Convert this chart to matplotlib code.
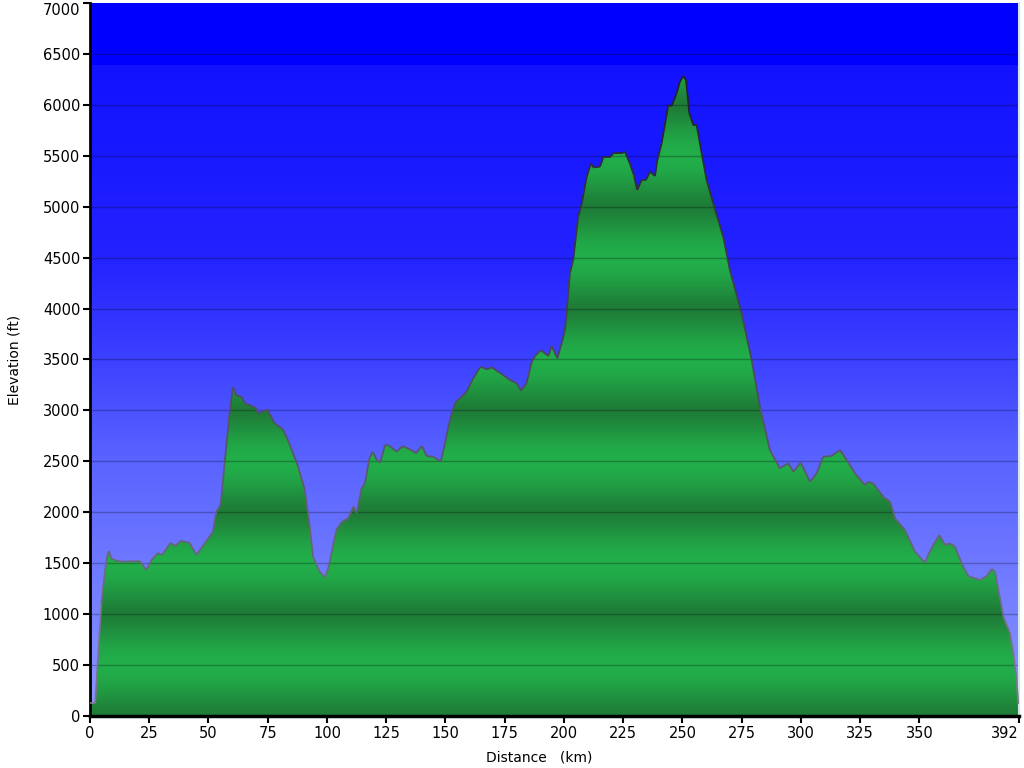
import numpy as np
import matplotlib
matplotlib.use('Agg')
import matplotlib.pyplot as plt
from matplotlib.collections import LineCollection

# elevation profile
dist_km = [0, 0.8, 2.2, 4.8, 6.9, 7.9, 9.0, 10.4, 13.2, 21.0, 23.8, 25.9, 28.7, 30.4,
           34.0, 36.0, 38.3, 42.0, 44.9, 48.4, 51.9, 53.3, 55.1, 56.8, 58.9, 60.3,
           61.7, 63.9, 65.3, 68.1, 70.2, 70.9, 73.0, 74.8, 77.9, 81.4, 83.5, 87.8,
           90.6, 92.7, 94.1, 96.9, 98.3, 99.2, 100.7, 103.9, 106.2, 109.0, 111.1,
           112.5, 114.6, 116.0, 117.9, 119.3, 121.0, 122.4, 124.5, 125.9, 129.4,
           131.9, 135.0, 137.6, 140.0, 142.1, 144.9, 148.0, 149.8, 151.2, 153.0,
           154.4, 156.8, 158.9, 161.7, 164.8, 167.4, 169.5, 173.0, 177.2, 180.0,
           181.9, 184.2, 186.4, 187.8, 190.2, 193.4, 194.8, 197.2, 199.0, 200.4,
           201.1, 202.5, 203.9, 206.0, 207.5, 209.6, 211.4, 212.4, 215.2, 216.6,
           219.4, 220.8, 224.3, 225.7, 227.8, 229.5, 230.9, 232.8, 234.6, 236.3,
           238.4, 239.4, 241.2, 244.0, 245.4, 247.5, 248.9, 250.3, 251.5, 252.9,
           254.6, 256.0, 258.1, 260.2, 263.0, 267.2, 270.0, 275.0, 279.2, 282.7,
           286.9, 291.1, 294.6, 296.8, 299.9, 303.8, 306.6, 309.4, 312.9, 316.5,
           319.3, 322.8, 327.0, 328.4, 330.5, 334.7, 337.6, 339.7, 343.9, 348.1,
           352.3, 353.7, 355.8, 358.4, 360.8, 362.9, 365.0, 367.8, 370.6, 375.5,
           378.4, 380.5, 381.9, 385.4, 388.2, 389.6, 391.0, 391.7, 392.0]
elev_ft = [130, 125, 125, 1110, 1530, 1620, 1548, 1530, 1515, 1520, 1433, 1530, 1600, 1580,
           1700, 1670, 1720, 1700, 1580, 1695, 1810, 2005, 2070, 2480, 2970, 3230,
           3150, 3135, 3070, 3045, 3020, 2970, 2990, 3010, 2875, 2815, 2710, 2450,
           2220, 1860, 1565, 1417, 1385, 1360, 1465, 1825, 1905, 1940, 2055,
           1990, 2235, 2285, 2530, 2595, 2513, 2487, 2660, 2660, 2595,
           2650, 2618, 2580, 2650, 2552, 2545, 2497, 2677, 2840, 3004,
           3086, 3135, 3184, 3315, 3430, 3403, 3423, 3370, 3299, 3266,
           3194, 3266, 3478, 3534, 3593, 3534, 3632, 3512, 3659, 3790,
           3953, 4346, 4477, 4902, 5033, 5295, 5426, 5386, 5393, 5485,
           5485, 5524, 5524, 5540, 5426, 5311, 5164, 5262, 5262, 5344,
           5301, 5458, 5622, 5998, 5989, 6113, 6227, 6283, 6244, 5917,
           5802, 5802, 5524, 5262, 5033, 4706, 4379, 3953, 3495, 3037,
           2611, 2432, 2481, 2399, 2487, 2300, 2382, 2546, 2553, 2611,
           2513, 2382, 2268, 2300, 2284, 2153, 2104, 1941, 1826, 1613,
           1505, 1581, 1679, 1777, 1679, 1695, 1662, 1499, 1374, 1335,
           1374, 1443, 1417, 975, 812, 616, 354, 125, 125]

x_ticks = [0, 25, 50, 75, 100, 125, 150, 175, 200, 225, 250, 275, 300, 325, 350, 392]
y_ticks = list(range(0, 7001, 500))

x = np.array(dist_km)
y = np.array(elev_ft)

fig = plt.figure(figsize=(10.24, 7.68), dpi=100)
ax = fig.add_axes([90/1024, 52/768, 929/1024, 713/768])
ax.set_xlim(0, 392)
ax.set_ylim(0, 7000)

# blue sky gradient
h = np.linspace(0, 7000, 701)
stops_h = [0, 1000, 2500, 3500, 4500, 5500, 6380]
stops_c = np.array([[140, 150, 255], [120, 130, 255], [90, 100, 255], [60, 65, 255],
                    [35, 35, 255], [25, 25, 255], [18, 18, 255]]) / 255
sky = np.stack([np.interp(h, stops_h, stops_c[:, i]) for i in range(3)], axis=1)
sky[h >= 6400] = [0, 0, 1]
ax.imshow(sky[:, None, :], extent=[0, 392, 0, 7000], origin='lower', aspect='auto',
          interpolation='nearest', zorder=0)

# green banded terrain fill
dark = np.array([30, 124, 55]) / 255
light = np.array([34, 174, 74]) / 255
t = ((1 - np.cos(2 * np.pi * h / 1000)) / 2) ** 0.7
ground = dark + t[:, None] * (light - dark)
poly = ax.fill_between(x, y, 0, facecolor='none', edgecolor='none')
im = ax.imshow(ground[:, None, :], extent=[0, 392, 0, 7000], origin='lower', aspect='auto',
               interpolation='bilinear', zorder=0.5)
im.set_clip_path(poly.get_paths()[0], transform=ax.transData)

# outline, darker higher up
pts = np.column_stack([x, y])
segs = np.stack([pts[:-1], pts[1:]], axis=1)
mid = (y[:-1] + y[1:]) / 2
f = np.clip(mid / 6300, 0, 1)[:, None]
low_c = np.array([0.50, 0.50, 0.58])
high_c = np.array([0.12, 0.12, 0.18])
cols = low_c + f * (high_c - low_c)
ax.add_collection(LineCollection(segs, colors=cols, linewidths=1.3, zorder=3))

for v in y_ticks[1:-1]:
    ax.axhline(v, color='black', alpha=0.25, lw=1, zorder=2)

ax.set_xticks(x_ticks)
ax.set_yticks(y_ticks)
ax.tick_params(direction='out', length=5, width=1.5, colors='black', labelsize=10.5, pad=2)
ax.get_xticklabels()[-1].set_horizontalalignment('right')
ax.get_yticklabels()[-1].set_verticalalignment('top')
ax.spines['top'].set_visible(False)
ax.spines['right'].set_color('#cde6e6')
ax.spines['right'].set_linewidth(1.5)
ax.spines['left'].set_linewidth(2)
ax.spines['bottom'].set_linewidth(2.5)

ax.set_ylabel('Elevation (ft)', fontsize=10)
ax.set_xlabel('Distance   (km)', fontsize=10)
ax.yaxis.set_label_coords(-0.074, 0.5)
ax.xaxis.set_label_coords(0.484, -0.048)

plt.savefig('out.png', dpi=100)
